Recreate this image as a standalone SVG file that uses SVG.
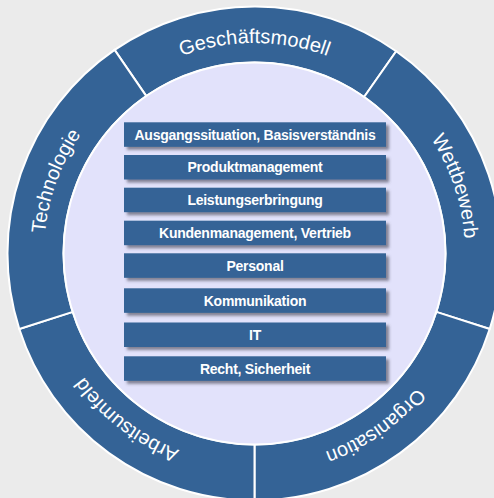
<svg xmlns="http://www.w3.org/2000/svg" width="494" height="498" viewBox="0 0 494 498">
  <defs>
    <filter id="shadow" x="-10%" y="-30%" width="120%" height="180%">
      <feDropShadow dx="3" dy="3" stdDeviation="1.5" flood-color="#404050" flood-opacity="0.6"/>
    </filter>
    <path id="ringPath" d="M 254.5,464 A 210.5 210.5 0 1 1 254.5,43 A 210.5 210.5 0 1 1 254.5,464"/>
  </defs>
  <style>
    .seg { fill: #346396; stroke: #ffffff; stroke-width: 2; }
    .ringlabel { font-family: "Liberation Sans", Arial, sans-serif; font-size: 20px; fill: #ffffff; text-anchor: middle; }
    .bar { fill: #346396; filter: url(#shadow); }
    .barlabel { font-family: "Liberation Sans", Arial, sans-serif; font-size: 14px; letter-spacing: -0.25px; font-weight: bold; fill: #ffffff; text-anchor: middle; }
  </style>
  <rect x="0" y="0" width="494" height="498" fill="#ebebeb"/>

  <g id="ring">
    <g id="seg-geschaeftsmodell">
      <path class="seg" d="M 114.6,49.9 A 247 247 0 0 1 396.2,51.2 L 364.1,97.0 A 191 191 0 0 0 146.3,96.1 Z"/>
      <text class="ringlabel"><textPath href="#ringPath" startOffset="50%">Geschäftsmodell</textPath></text>
    </g>
    <g id="seg-wettbewerb">
      <path class="seg" d="M 396.2,51.2 A 247 247 0 0 1 489.7,329.0 L 436.3,311.9 A 191 191 0 0 0 364.1,97.0 Z"/>
      <text class="ringlabel"><textPath href="#ringPath" startOffset="69.86%">Wettbewerb</textPath></text>
    </g>
    <g id="seg-organisation">
      <path class="seg" d="M 489.7,329.0 A 247 247 0 0 1 254.5,500.5 L 254.5,444.5 A 191 191 0 0 0 436.3,311.9 Z"/>
      <text class="ringlabel"><textPath href="#ringPath" startOffset="90.28%">Organisation</textPath></text>
    </g>
    <g id="seg-arbeitsumfeld">
      <path class="seg" d="M 254.5,500.5 A 247 247 0 0 1 19.3,329.0 L 72.7,311.9 A 191 191 0 0 0 254.5,444.5 Z"/>
      <text class="ringlabel"><textPath href="#ringPath" startOffset="10.42%">Arbeitsumfeld</textPath></text>
    </g>
    <g id="seg-technologie">
      <path class="seg" d="M 19.3,329.0 A 247 247 0 0 1 114.6,49.9 L 146.3,96.1 A 191 191 0 0 0 72.7,311.9 Z"/>
      <text class="ringlabel"><textPath href="#ringPath" startOffset="30.56%">Technologie</textPath></text>
    </g>
  </g>

  <g id="core">
    <circle cx="254.5" cy="253.5" r="191" fill="#e2e2fb" stroke="#ffffff" stroke-width="2"/>
  </g>

  <g id="connectors"></g>

  <g id="bar1"><rect class="bar" x="124" y="122.3" width="262" height="24.5"/><text class="barlabel" x="255" y="139.5">Ausgangssituation, Basisverständnis</text></g>
  <g id="bar2"><rect class="bar" x="124" y="155" width="262" height="24.5"/><text class="barlabel" x="255" y="172.2">Produktmanagement</text></g>
  <g id="bar3"><rect class="bar" x="124" y="187.7" width="262" height="24.5"/><text class="barlabel" x="255" y="204.9">Leistungserbringung</text></g>
  <g id="bar4"><rect class="bar" x="124" y="220.7" width="262" height="24.5"/><text class="barlabel" x="255" y="237.9">Kundenmanagement, Vertrieb</text></g>
  <g id="bar5"><rect class="bar" x="124" y="253.3" width="262" height="24.5"/><text class="barlabel" x="255" y="270.5">Personal</text></g>
  <g id="bar6"><rect class="bar" x="124" y="288.3" width="262" height="24.5"/><text class="barlabel" x="255" y="305.5">Kommunikation</text></g>
  <g id="bar7"><rect class="bar" x="124" y="322.5" width="262" height="24.5"/><text class="barlabel" x="255" y="339.7">IT</text></g>
  <g id="bar8"><rect class="bar" x="124" y="356.3" width="262" height="24.5"/><text class="barlabel" x="255" y="373.5">Recht, Sicherheit</text></g>
</svg>
